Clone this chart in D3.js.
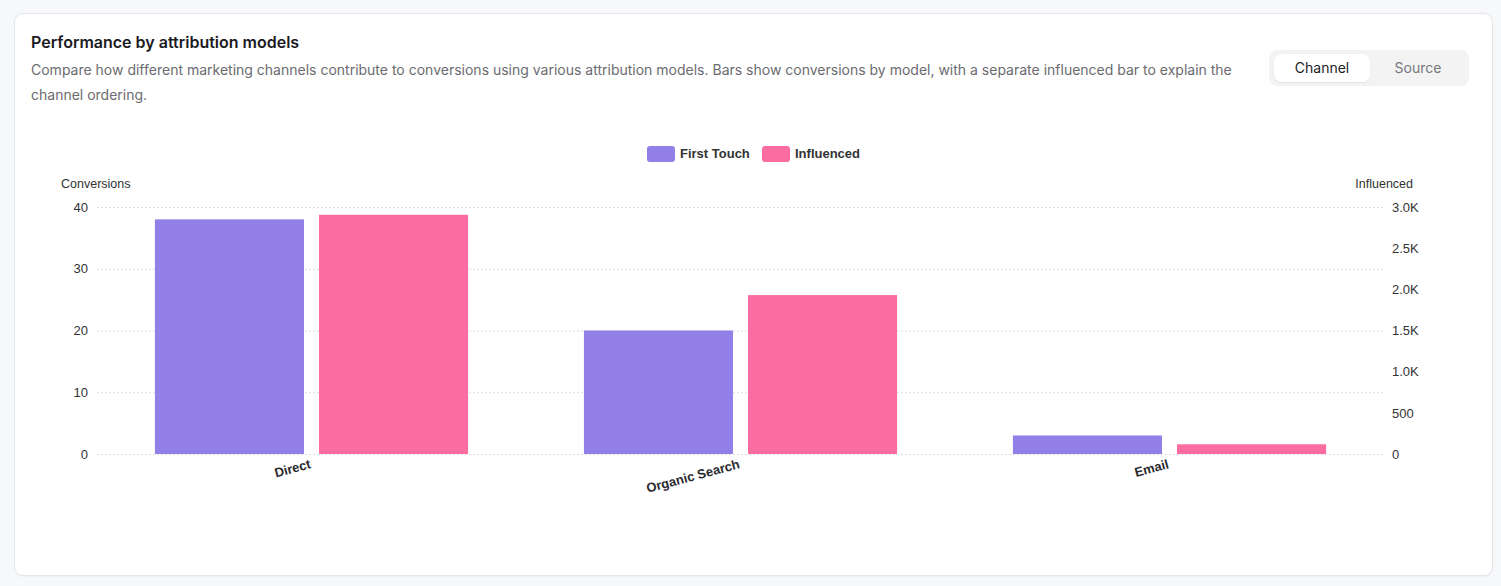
<!DOCTYPE html>
<html>
<head>
<meta charset="utf-8">
<script src="https://cdn.jsdelivr.net/npm/d3@7"></script>
<style>
  html, body { margin: 0; padding: 0; background: #f7f8fa; }
  body { width: 1501px; height: 586px; position: relative; overflow: hidden; font-family: Inter, "Noto Sans", sans-serif; }
  .card { position: absolute; left: 14px; top: 13px; width: 1477px; height: 561px; background: #fff;
          border: 1px solid #e4e6ea; border-radius: 9px; box-shadow: 0 1px 2px rgba(0,0,0,0.04); }
  .title { position: absolute; left: 16px; top: 18px; font-size: 16px; font-weight: 600; color: #1b1b1f; }
  .sub { position: absolute; left: 16px; top: 43px; width: 1225px; font-size: 14px; line-height: 25px; color: #6b6b70; }
  .toggle { position: absolute; left: 1254px; top: 36px; width: 200px; height: 36px; background: #f3f3f4; border-radius: 8px; }
  .toggle div { position: absolute; top: 4px; height: 28px; line-height: 28px; text-align: center; font-size: 14px; }
  .toggle .on { left: 5px; width: 96px; background: #fff; border-radius: 7px; color: #1b1b1f; box-shadow: 0 1px 2px rgba(0,0,0,0.08); }
  .toggle .off { left: 101px; width: 96px; color: #77777c; }
  svg { position: absolute; left: 0; top: 0; }
</style>
</head>
<body>
<div class="card">
  <div class="title">Performance by attribution models</div>
  <div class="sub">Compare how different marketing channels contribute to conversions using various attribution models. Bars show conversions by model, with a separate influenced bar to explain the channel ordering.</div>
  <div class="toggle"><div class="on">Channel</div><div class="off">Source</div></div>
</div>
<svg id="chart" width="1501" height="586"></svg>
<script>
var channels = ["Direct", "Organic Search", "Email"];
var firstTouch = [38, 20, 3];
var influenced = [2905, 1930, 118];
var seriesNames = ["First Touch", "Influenced"];
var seriesColors = ["#937fe8", "#fb6ca0"];
var leftTicks = [0, 10, 20, 30, 40];
var rightTicks = [0, 500, 1000, 1500, 2000, 2500, 3000];

var svg = d3.select("#chart");
var plotLeft = 97, plotRight = 1384, plotTop = 207, plotBottom = 454;
var chartFont = "'Liberation Sans', Arial, sans-serif";

var x = d3.scaleBand().domain(channels).range([plotLeft, plotRight]).paddingInner(0).paddingOuter(0);
// bars sit in the middle of each band with a small gap between them
var groupPad = x.bandwidth() * 0.135;
var x1 = d3.scaleBand().domain(seriesNames).range([groupPad, x.bandwidth() - groupPad]).paddingInner(0.0915).paddingOuter(0);
var yL = d3.scaleLinear().domain([0, 40]).range([plotBottom, plotTop]);
var yR = d3.scaleLinear().domain([0, 3000]).range([plotBottom, plotTop]);

// grid lines (left axis)
svg.append("g").selectAll("line").data(leftTicks).enter().append("line")
  .attr("x1", plotLeft).attr("x2", plotRight)
  .attr("y1", function(d){ return yL(d) + 0.5; }).attr("y2", function(d){ return yL(d) + 0.5; })
  .attr("stroke", "#dcdcdf").attr("stroke-dasharray", "2,2");

// bars
var rows = channels.map(function(c, i){ return { ch: c, vals: [firstTouch[i], influenced[i]] }; });
var grp = svg.append("g").selectAll("g").data(rows).enter().append("g")
  .attr("transform", function(d){ return "translate(" + x(d.ch) + ",0)"; });
grp.selectAll("rect").data(function(d){ return d.vals.map(function(v, k){ return { k: k, v: v }; }); })
  .enter().append("rect")
  .attr("x", function(d){ return x1(seriesNames[d.k]); })
  .attr("width", x1.bandwidth())
  .attr("y", function(d){ return d.k === 0 ? yL(d.v) : yR(d.v); })
  .attr("height", function(d){ return plotBottom - (d.k === 0 ? yL(d.v) : yR(d.v)); })
  .attr("fill", function(d){ return seriesColors[d.k]; });

// left axis
var axL = svg.append("g").attr("transform", "translate(" + (plotLeft - 9) + ",0)")
  .call(d3.axisLeft(yL).tickValues(leftTicks).tickSize(0).tickPadding(0));
axL.select(".domain").remove();
axL.selectAll("text").attr("font-family", chartFont).attr("font-size", 13).attr("fill", "#333");

// right axis
var axR = svg.append("g").attr("transform", "translate(" + (plotRight + 8) + ",0)")
  .call(d3.axisRight(yR).tickValues(rightTicks).tickSize(0).tickPadding(0)
    .tickFormat(function(d){ return d >= 1000 ? (d / 1000).toFixed(1) + "K" : d; }));
axR.select(".domain").remove();
axR.selectAll("text").attr("font-family", chartFont).attr("font-size", 13).attr("fill", "#333");

// x axis
var axX = svg.append("g").attr("transform", "translate(0," + plotBottom + ")")
  .call(d3.axisBottom(x).tickSize(0).tickPadding(0));
axX.select(".domain").remove();
axX.selectAll("text")
  .attr("font-family", chartFont).attr("font-size", 13).attr("font-weight", "bold").attr("fill", "#2a2a2e")
  .attr("text-anchor", "end").attr("dy", 0)
  .attr("transform", "translate(0,14) rotate(-15)");

// axis titles
svg.append("text").attr("x", 61).attr("y", 188).text("Conversions")
  .attr("font-family", chartFont).attr("font-size", 12.5).attr("fill", "#333");
svg.append("text").attr("x", 1413).attr("y", 188).attr("text-anchor", "end").text("Influenced")
  .attr("font-family", chartFont).attr("font-size", 12.5).attr("fill", "#333");

// legend
var legendX = [647, 762];
var lg = svg.append("g").selectAll("g").data(seriesNames).enter().append("g")
  .attr("transform", function(d, i){ return "translate(" + legendX[i] + ",146)"; });
lg.append("rect").attr("width", 28).attr("height", 16).attr("rx", 3)
  .attr("fill", function(d, i){ return seriesColors[i]; });
lg.append("text").attr("x", 33).attr("y", 12).text(function(d){ return d; })
  .attr("font-family", chartFont).attr("font-size", 13).attr("font-weight", "bold").attr("fill", "#333");
</script>
</body>
</html>
